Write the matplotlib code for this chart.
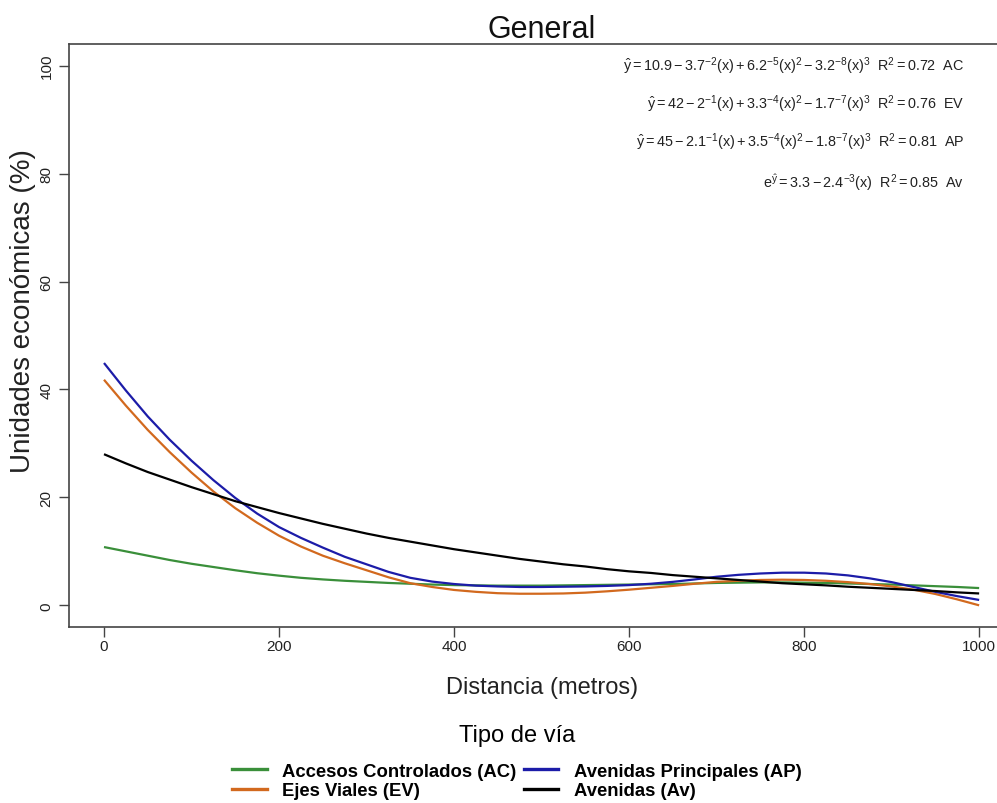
import matplotlib
matplotlib.use("Agg")
import matplotlib.pyplot as plt
from matplotlib.lines import Line2D

plt.rcParams['font.family'] = ['Liberation Sans', 'DejaVu Sans']
plt.rcParams['mathtext.fontset'] = 'custom'
plt.rcParams['mathtext.rm'] = 'Liberation Sans'
plt.rcParams['mathtext.it'] = 'Liberation Sans:italic'
plt.rcParams['mathtext.bf'] = 'Liberation Sans:bold'

# ---- data ----
distance = [0, 25, 50, 75, 100, 125, 150, 175, 200, 225, 250, 275, 300, 325, 350,
            375, 400, 425, 450, 475, 500, 525, 550, 575, 600, 625, 650, 675, 700,
            725, 750, 775, 800, 825, 850, 875, 900, 925, 950, 975, 1000]

ac = [10.8, 10.0, 9.2, 8.4, 7.7, 7.1, 6.5, 5.95, 5.5, 5.1, 4.8, 4.55, 4.35, 4.15,
      4.0, 3.85, 3.75, 3.7, 3.65, 3.65, 3.65, 3.7, 3.75, 3.8, 3.85, 3.9, 3.95,
      4.05, 4.15, 4.2, 4.25, 4.25, 4.2, 4.15, 4.05, 3.95, 3.85, 3.7, 3.55, 3.4, 3.2]

ev = [41.8, 37.0, 32.5, 28.4, 24.6, 21.1, 18.0, 15.3, 12.9, 10.9, 9.2, 7.8, 6.5,
      5.2, 4.1, 3.4, 2.85, 2.5, 2.25, 2.15, 2.15, 2.2, 2.35, 2.6, 2.9, 3.25, 3.6,
      4.0, 4.35, 4.55, 4.7, 4.75, 4.7, 4.55, 4.3, 3.95, 3.5, 2.9, 2.1, 1.1, 0.0]

ap = [44.9, 39.8, 35.0, 30.7, 26.8, 23.2, 19.9, 17.0, 14.5, 12.5, 10.7, 9.0, 7.6,
      6.2, 5.1, 4.4, 3.95, 3.65, 3.5, 3.4, 3.4, 3.45, 3.5, 3.6, 3.75, 4.0, 4.35,
      4.8, 5.3, 5.65, 5.9, 6.05, 6.05, 5.9, 5.55, 5.0, 4.3, 3.4, 2.5, 1.7, 1.0]

av = [28.0, 26.3, 24.7, 23.3, 21.9, 20.6, 19.3, 18.2, 17.1, 16.1, 15.1, 14.2, 13.3,
      12.5, 11.8, 11.1, 10.4, 9.8, 9.2, 8.6, 8.1, 7.6, 7.2, 6.7, 6.3, 6.0, 5.6,
      5.3, 5.0, 4.7, 4.4, 4.1, 3.9, 3.7, 3.45, 3.25, 3.05, 2.85, 2.65, 2.4, 2.2]

series_labels = ["Accesos Controlados (AC)", "Ejes Viales (EV)",
                 "Avenidas Principales (AP)", "Avenidas (Av)"]
series_colors = ["#3A8F3A", "#D2691E", "#1C1CA8", "#000000"]

equations = [
    r"$\hat{\mathrm{y}} = 10.9 - 3.7^{-2}(\mathrm{x}) + 6.2^{-5}(\mathrm{x})^2 - 3.2^{-8}(\mathrm{x})^3\ \ \mathrm{R}^2 = 0.72\ \ \mathrm{AC}$",
    r"$\hat{\mathrm{y}} = 42 - 2^{-1}(\mathrm{x}) + 3.3^{-4}(\mathrm{x})^2 - 1.7^{-7}(\mathrm{x})^3\ \ \mathrm{R}^2 = 0.76\ \ \mathrm{EV}$",
    r"$\hat{\mathrm{y}} = 45 - 2.1^{-1}(\mathrm{x}) + 3.5^{-4}(\mathrm{x})^2 - 1.8^{-7}(\mathrm{x})^3\ \ \mathrm{R}^2 = 0.81\ \ \mathrm{AP}$",
    r"$\mathrm{e}^{\hat{\mathrm{y}}} = 3.3 - 2.4^{-3}(\mathrm{x})\ \ \mathrm{R}^2 = 0.85\ \ \mathrm{Av}$",
]

xticks = [0, 200, 400, 600, 800, 1000]
yticks = [0, 20, 40, 60, 80, 100]

# ---- figure ----
fig = plt.figure(figsize=(9.97, 8.04), dpi=100)
ax = fig.add_axes([0.0692, 0.219, 0.948, 0.725])

for ys, c in zip([ac, ev, ap, av], series_colors):
    ax.plot(distance, ys, color=c, lw=1.6, solid_capstyle='butt')

ax.set_xlim(-40, 1040)
ax.set_ylim(-4, 104)
ax.set_xticks(xticks)
ax.set_yticks(yticks)
ax.set_xticklabels([str(v) for v in xticks], fontsize=11, color='#222222')
ax.set_yticklabels([str(v) for v in yticks], fontsize=11, color='#222222',
                   rotation=90, va='center')
ax.tick_params(axis='both', length=7, width=1.0, color='#444444')
ax.tick_params(axis='x', pad=2)
ax.tick_params(axis='y', pad=4)
for s in ax.spines.values():
    s.set_color('#444444')
    s.set_linewidth(1.2)

ax.set_title("General", fontsize=22, pad=4, color='#111111')
ax.set_xlabel("Distancia (metros)", fontsize=17, labelpad=16, color='#222222')
ax.set_ylabel("Unidades económicas (%)", fontsize=20, color='#222222',
              va='center')
ax.yaxis.set_label_coords(-0.049, 0.544)

eq_y = [66, 104, 142, 183]
for txt, py in zip(equations, eq_y):
    fig.text(964 / 997, 1 - py / 804, txt, ha='right', va='center',
             fontsize=10.4, color='#222222')

handles = [Line2D([0], [0], color=c, lw=2.4) for c in series_colors]
leg = fig.legend(handles, series_labels, loc='upper center',
                 bbox_to_anchor=(517 / 997, 1 - 712 / 804), ncol=2,
                 frameon=False, title="Tipo de vía", title_fontsize=17,
                 prop={'weight': 'bold', 'size': 13.3},
                 handlelength=1.85, handletextpad=0.85, columnspacing=0.4,
                 labelspacing=0.15, borderpad=0.2)
leg._legend_box.sep = 12

fig.savefig("out.png", dpi=100)
